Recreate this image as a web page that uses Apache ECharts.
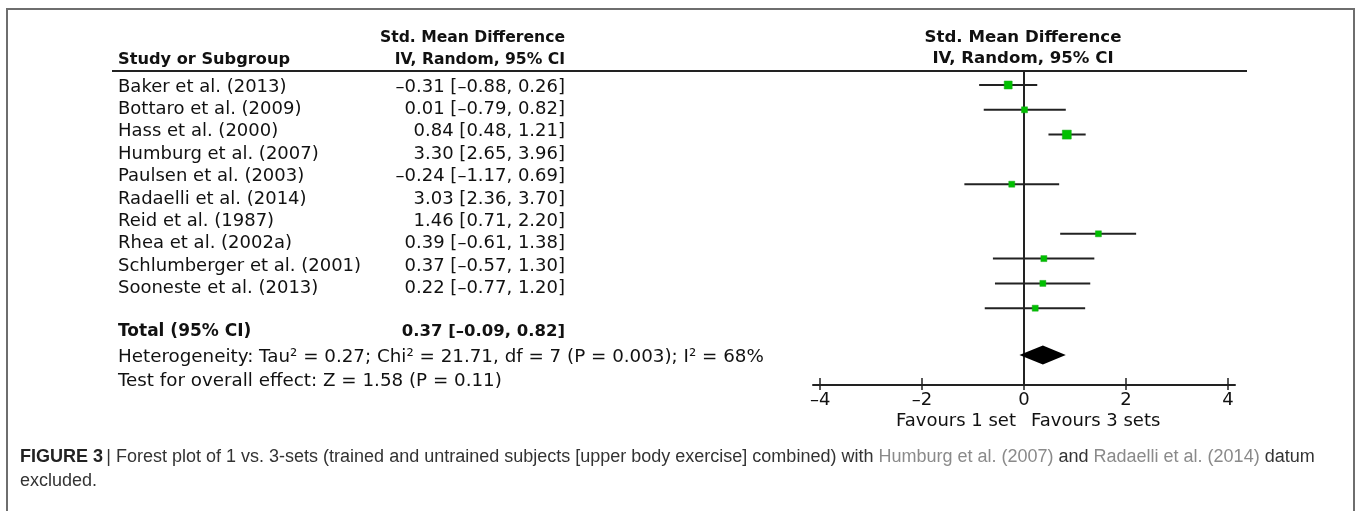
<!DOCTYPE html>
<html>
<head>
<meta charset="utf-8">
<script src="https://cdn.jsdelivr.net/npm/echarts@6/dist/echarts.min.js"></script>
<style>
html,body{margin:0;padding:0;background:#fff;}
#chart{width:1357px;height:511px;}
</style>
</head>
<body>
<div id="chart"></div>
<script>
// ---------------- DATA ----------------
const studies = ['Baker et al. (2013)','Bottaro et al. (2009)','Hass et al. (2000)','Humburg et al. (2007)','Paulsen et al. (2003)','Radaelli et al. (2014)','Reid et al. (1987)','Rhea et al. (2002a)','Schlumberger et al. (2001)','Sooneste et al. (2013)'];
const smd   = [-0.31, 0.01, 0.84, 3.30, -0.24, 3.03, 1.46, 0.39, 0.37, 0.22];
const ciLow = [-0.88,-0.79, 0.48, 2.65, -1.17, 2.36, 0.71,-0.61,-0.57,-0.77];
const ciHigh= [ 0.26, 0.82, 1.21, 3.96,  0.69, 3.70, 2.20, 1.38, 1.30, 1.20];
const excluded = [false,false,false,true,false,true,false,false,false,false];
const total = {label:'Total (95% CI)', est:0.37, lo:-0.09, hi:0.82};
const heterogeneity = 'Heterogeneity: Tau² = 0.27; Chi² = 21.71, df = 7 (P = 0.003); I² = 68%';
const overallTest = 'Test for overall effect: Z = 1.58 (P = 0.11)';
const xTicks = [-4,-2,0,2,4];
const favourLeft = 'Favours 1 set', favourRight = 'Favours 3 sets';
const headerTop = 'Std. Mean Difference', headerSub = 'IV, Random, 95% CI', headerStudy = 'Study or Subgroup';

// ---------------- STYLE / LAYOUT ----------------
const markerSize = [8,6,9,0,6,0,6,6,6,6];
const FONT = 'DejaVu Sans';
const txtSize = 18;
const nameX = 118, valRight = 565, rowY0 = 87, rowStep = 22.4;
const plotRowOffsetTotal = 10.89; // plot row position of pooled diamond
const MINUS = '\u2013';

function fmt(v){ return (v<0?MINUS:'') + Math.abs(v).toFixed(2); }
function ciText(e,l,h){ return fmt(e)+' ['+fmt(l)+', '+fmt(h)+']'; }

const graphic = [];
graphic.push({type:'rect', shape:{x:7,y:9,width:1347,height:520}, style:{fill:'none', stroke:'#6e6e6e', lineWidth:2}, silent:true});
graphic.push({type:'line', shape:{x1:112,y1:71,x2:1247,y2:71}, style:{stroke:'#222', lineWidth:2}});
const hbL = {fontFamily:FONT, fontWeight:'bold', fontSize:15.6, fill:'#111'};
const hbR = {fontFamily:FONT, fontWeight:'bold', fontSize:16.6, fill:'#111'};
graphic.push({type:'text', x:valRight, y:38, style:Object.assign({text:headerTop, textAlign:'right', textVerticalAlign:'middle'}, hbL)});
graphic.push({type:'text', x:valRight, y:60, style:Object.assign({text:headerSub, textAlign:'right', textVerticalAlign:'middle'}, hbL)});
graphic.push({type:'text', x:nameX, y:60, style:Object.assign({text:headerStudy, textAlign:'left', textVerticalAlign:'middle'}, hbL, {fontSize:16.2})});
graphic.push({type:'text', x:1023, y:38, style:Object.assign({text:headerTop, textAlign:'center', textVerticalAlign:'middle'}, hbR)});
graphic.push({type:'text', x:1023, y:59, style:Object.assign({text:headerSub, textAlign:'center', textVerticalAlign:'middle'}, hbR)});
const nt = {fontFamily:FONT, fontSize:txtSize, fill:'#111'};
studies.forEach((s,i)=>{
  const y = rowY0 + i*rowStep;
  graphic.push({type:'text', x:nameX, y:y, style:Object.assign({text:s, textAlign:'left', textVerticalAlign:'middle'}, nt)});
  graphic.push({type:'text', x:valRight, y:y, style:Object.assign({text:ciText(smd[i],ciLow[i],ciHigh[i]), textAlign:'right', textVerticalAlign:'middle'}, nt)});
});
graphic.push({type:'text', x:nameX, y:332, style:Object.assign({text:total.label, textAlign:'left', textVerticalAlign:'middle'}, nt, {fontWeight:'bold', fontSize:17})});
graphic.push({type:'text', x:valRight, y:332, style:Object.assign({text:ciText(total.est,total.lo,total.hi), textAlign:'right', textVerticalAlign:'middle'}, nt, {fontWeight:'bold', fontSize:16.5})});
graphic.push({type:'text', x:nameX, y:357, style:Object.assign({text:heterogeneity, textAlign:'left', textVerticalAlign:'middle'}, nt, {fontSize:18.3})});
graphic.push({type:'text', x:nameX, y:381, style:Object.assign({text:overallTest, textAlign:'left', textVerticalAlign:'middle'}, nt, {fontSize:18.3})});
graphic.push({type:'text', x:1016, y:421, style:Object.assign({text:favourLeft, textAlign:'right', textVerticalAlign:'middle'}, nt)});
graphic.push({type:'text', x:1031, y:421, style:Object.assign({text:favourRight, textAlign:'left', textVerticalAlign:'middle'}, nt)});
graphic.push({type:'text', x:20, y:445, style:{
  text:'{b|FIGURE 3} {n|| Forest plot of 1 vs. 3-sets (trained and untrained subjects [upper body exercise] combined) with }{l|Humburg et al. (2007)}{n| and }{l|Radaelli et al. (2014)}{n| datum}\n{n|excluded.}',
  rich:{
    b:{fontFamily:'Liberation Sans', fontWeight:'bold', fontSize:18, fill:'#222', lineHeight:24},
    n:{fontFamily:'Liberation Sans', fontSize:18, fill:'#333', lineHeight:24},
    l:{fontFamily:'Liberation Sans', fontSize:18, fill:'#8a8a8a', lineHeight:24}
  }, textAlign:'left', textVerticalAlign:'top'}});

const ciData = [];
studies.forEach((s,i)=>{ if(!excluded[i]) ciData.push([smd[i], i, ciLow[i], ciHigh[i], markerSize[i]]); });

const chart = echarts.init(document.getElementById('chart'), null, {renderer:'canvas'});
chart.setOption({
  backgroundColor:'#fff',
  animation:false,
  graphic: graphic,
  grid:{left:813, top:71, width:422, height:314, containLabel:false},
  xAxis:[{
    type:'value', min:-4.14, max:4.14, position:'bottom',
    axisLine:{onZero:false, lineStyle:{color:'#222', width:2}},
    axisTick:{show:true, inside:true, length:7, customValues:xTicks, lineStyle:{color:'#222', width:1.5}},
    axisLabel:{show:true, customValues:xTicks, margin:6, fontFamily:FONT, fontSize:txtSize, color:'#111',
      formatter:v=>(v<0?MINUS:'')+Math.abs(v)},
    splitLine:{show:false}
  },{
    type:'value', min:-4.14, max:4.14, position:'bottom',
    axisLine:{show:false, onZero:false},
    axisTick:{show:true, inside:false, length:5, customValues:xTicks, lineStyle:{color:'#222', width:1.5}},
    axisLabel:{show:false}, splitLine:{show:false}
  }],
  yAxis:{type:'value', inverse:true, min:-0.5645, max:12.097,
    axisLine:{show:true, onZero:true, lineStyle:{color:'#222', width:2}},
    axisTick:{show:false}, axisLabel:{show:false}, splitLine:{show:false}},
  series:[{
    type:'custom', xAxisIndex:0, yAxisIndex:0,
    data:ciData,
    encode:{x:[0,2,3], y:1},
    renderItem:function(params, api){
      const r = api.value(1), s = api.value(4);
      const p = api.coord([api.value(0), r]);
      const a = api.coord([api.value(2), r]);
      const b = api.coord([api.value(3), r]);
      return {type:'group', children:[
        {type:'line', shape:{x1:a[0],y1:a[1],x2:b[0],y2:b[1]}, style:{stroke:'#222', lineWidth:2}},
        {type:'rect', shape:{x:p[0]-s/2, y:p[1]-s/2, width:s, height:s}, style:{fill:'#00c000', stroke:'#1aa81a', lineWidth:0.5}}
      ]};
    }
  },{
    type:'custom', xAxisIndex:0, yAxisIndex:0,
    data:[[total.est, plotRowOffsetTotal, total.lo, total.hi]],
    encode:{x:[0,2,3], y:1},
    renderItem:function(params, api){
      const r = api.value(1);
      const c = api.coord([api.value(0), r]);
      const a = api.coord([api.value(2), r]);
      const b = api.coord([api.value(3), r]);
      const h = 9.5;
      return {type:'polygon', shape:{points:[[a[0],a[1]],[c[0],c[1]-h],[b[0],b[1]],[c[0],c[1]+h]]}, style:{fill:'#000'}};
    }
  }]
});
</script>
</body>
</html>
